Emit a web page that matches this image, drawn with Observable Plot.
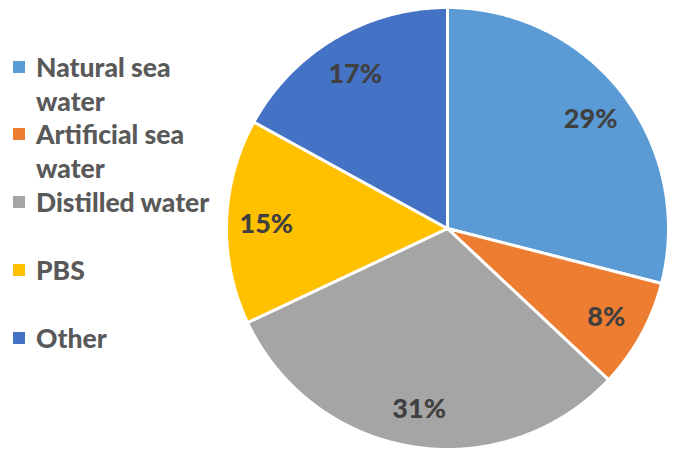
<!DOCTYPE html>
<html>
<head>
<meta charset="utf-8">
<script src="https://cdn.jsdelivr.net/npm/d3@7"></script>
<script src="https://cdn.jsdelivr.net/npm/@observablehq/plot@0.6"></script>
<style>
  body { margin: 0; background: #fff; }
  #wrap { position: relative; width: 674px; height: 455px; overflow: hidden; }
  #chart { position: absolute; left: 0; top: 0; }
  .leg { position: absolute; left: 0; font-family: Lato, "Open Sans", sans-serif; font-weight: 900; font-size: 26.5px; color: #595959; line-height: 34px; }
  .leg .sw { position: absolute; left: 13px; top: 11px; width: 12px; height: 12px; }
  .leg .lb { position: absolute; left: 36px; top: 0; white-space: nowrap; }
</style>
</head>
<body>
<div id="wrap"><div id="chart"></div></div>
<script>
const categories = ["Natural sea water", "Artificial sea water", "Distilled water", "PBS", "Other"];
const legendLines = [["Natural sea", "water"], ["Artificial sea", "water"], ["Distilled water"], ["PBS"], ["Other"]];
const values = [29, 8, 31, 15, 17];
const colors = ["#5B9BD5", "#ED7D31", "#A5A5A5", "#FFC000", "#4472C4"];
const labels = ["29%", "8%", "31%", "15%", "17%"];

const W = 674, H = 455, cx = 447, cy = 228, R = 221;

const pie = d3.pie().sort(null).value(d => d.value)(
  categories.map((c, i) => ({category: c, value: values[i], label: labels[i]}))
);

// slice outlines: center -> arc -> center (angles clockwise from 12 o'clock)
const slicePts = [];
for (const s of pie) {
  const n = Math.max(8, Math.ceil((s.endAngle - s.startAngle) / 0.01));
  slicePts.push({category: s.data.category, x: 0, y: 0});
  for (let k = 0; k <= n; k++) {
    const a = s.startAngle + (s.endAngle - s.startAngle) * k / n;
    slicePts.push({category: s.data.category, x: Math.sin(a), y: Math.cos(a)});
  }
  slicePts.push({category: s.data.category, x: 0, y: 0});
}
const labelPts = pie.map(s => {
  const a = (s.startAngle + s.endAngle) / 2;
  return {label: s.data.label, x: 0.82 * Math.sin(a), y: 0.82 * Math.cos(a)};
});

const plot = Plot.plot({
  width: W, height: H,
  marginTop: 0, marginRight: 0, marginBottom: 0, marginLeft: 0,
  x: {domain: [-cx / R, (W - cx) / R], axis: null},
  y: {domain: [-(H - cy) / R, cy / R], axis: null},
  color: {domain: categories, range: colors},
  marks: [
    Plot.line(slicePts, {x: "x", y: "y", z: "category", fill: "category", stroke: "#fff", strokeWidth: 3, strokeLinejoin: "round", curve: "linear"}),
    Plot.text(labelPts, {x: "x", y: "y", text: "label", dy: 2, fontSize: 27, fontWeight: 900, fill: "#404040", fontFamily: "Lato, 'Open Sans', sans-serif"})
  ]
});
document.getElementById("chart").appendChild(plot);

// legend
const firstLineCenters = [67, 134, 202, 270, 338];
const wrap = document.getElementById("wrap");
categories.forEach((c, i) => {
  const d = document.createElement("div");
  d.className = "leg";
  d.style.top = (firstLineCenters[i] - 17) + "px";
  const sw = document.createElement("div");
  sw.className = "sw";
  sw.style.background = colors[i];
  const lb = document.createElement("div");
  lb.className = "lb";
  lb.innerHTML = legendLines[i].join("<br>");
  d.appendChild(sw); d.appendChild(lb);
  wrap.appendChild(d);
});
</script>
</body>
</html>
